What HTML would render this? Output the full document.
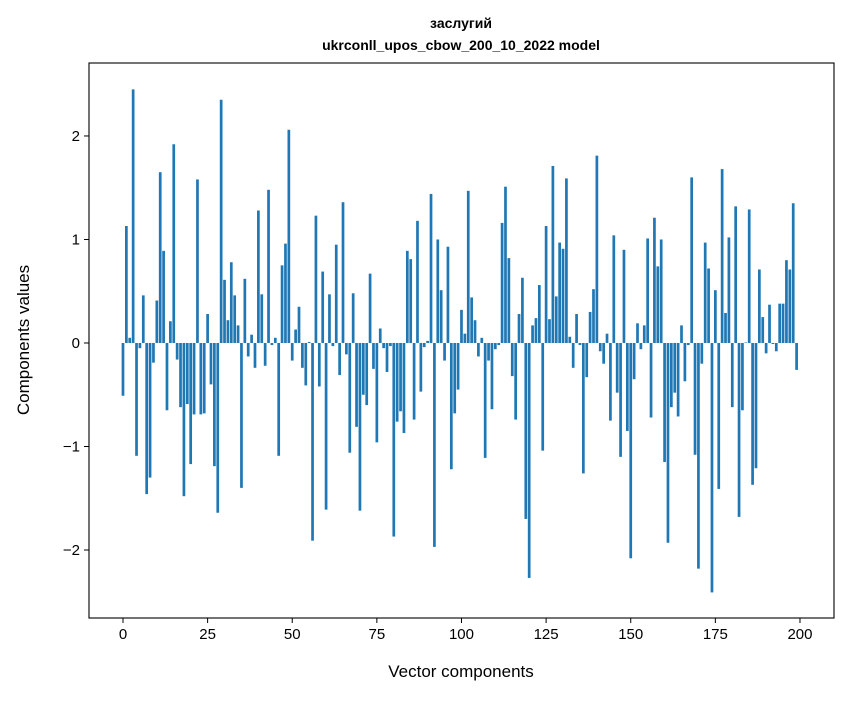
<!DOCTYPE html>
<html><head><meta charset="utf-8"><style>
body{margin:0;background:#fff;}
svg text{font-family:"Liberation Sans","DejaVu Sans",sans-serif;}
</style></head><body>
<svg id="chart" width="847" height="696" xmlns="http://www.w3.org/2000/svg">
<rect width="847" height="696" fill="#fff"/>
<text x="461" y="28" text-anchor="middle" font-size="14" font-weight="bold">заслугий</text>
<text x="461" y="50" text-anchor="middle" font-size="14" font-weight="bold">ukrconll_upos_cbow_200_10_2022 model</text>
<g id="bars"></g>
<rect x="89" y="63" width="745" height="555" fill="none" stroke="#000" stroke-width="1.1"/>
<g id="axes"></g>
<text x="461" y="677" text-anchor="middle" font-size="17">Vector components</text>
<text transform="translate(29,340) rotate(-90)" text-anchor="middle" font-size="17">Components values</text>
</svg>
<script>
const values = [-0.51,1.13,0.05,2.45,-1.09,-0.05,0.46,-1.46,-1.30,-0.19,
0.41,1.65,0.89,-0.65,0.21,1.92,-0.16,-0.62,-1.48,-0.59,
-1.17,-0.69,1.58,-0.69,-0.68,0.28,-0.40,-1.19,-1.64,2.35,
0.61,0.22,0.78,0.46,0.17,-1.40,0.62,-0.13,0.08,-0.24,
1.28,0.47,-0.22,1.48,-0.02,0.05,-1.09,0.75,0.96,2.06,
-0.17,0.13,0.35,-0.24,-0.41,0.01,-1.91,1.23,-0.42,0.69,
-1.61,0.47,-0.03,0.95,-0.31,1.36,-0.11,-1.06,0.48,-0.81,
-1.62,-0.50,-0.60,0.67,-0.25,-0.96,0.14,-0.05,-0.28,-0.03,
-1.87,-0.76,-0.66,-0.87,0.89,0.81,-0.74,1.18,-0.47,-0.04,
0.02,1.44,-1.97,1.00,0.51,-0.17,0.93,-1.22,-0.68,-0.45,
0.32,0.09,1.47,0.44,0.22,-0.13,0.05,-1.11,-0.17,-0.64,
-0.06,-0.02,1.16,1.51,0.82,-0.32,-0.74,0.28,0.63,-1.70,
-2.27,0.17,0.24,0.56,-1.04,1.13,0.23,1.71,0.45,0.97,
0.91,1.59,0.06,-0.24,0.28,-0.02,-1.26,-0.33,0.30,0.52,
1.81,-0.08,-0.20,0.09,-0.75,1.04,-0.48,-1.10,0.90,-0.85,
-2.08,-0.35,0.19,-0.06,0.17,1.01,-0.72,1.21,0.74,1.00,
-1.15,-1.93,-0.62,-0.48,-0.71,0.17,-0.37,-0.02,1.60,-1.08,
-2.18,-0.20,0.97,0.72,-2.41,0.51,-1.41,1.68,0.29,1.02,
-0.62,1.32,-1.68,-0.65,0.005,1.29,-1.37,-1.21,0.71,0.25,
-0.10,0.37,-0.01,-0.08,0.38,0.38,0.80,0.71,1.35,-0.26];
const xTicks = [0,25,50,75,100,125,150,175,200];
const yTicks = [-2,-1,0,1,2];
const X0=89,X1=834,Y0=63,Y1=618;
const xMin=-10.04,xMax=210.05,yMin=-2.657,yMax=2.705;
function sx(v){return X0+(v-xMin)/(xMax-xMin)*(X1-X0);}
function sy(v){return Y1-(v-yMin)/(yMax-yMin)*(Y1-Y0);}
const NS="http://www.w3.org/2000/svg";
const bars=document.getElementById('bars');
values.forEach((v,i)=>{
  const r=document.createElementNS(NS,'rect');
  
  
  const xa=sx(i-0.4),xb=sx(i+0.4);
  const ya=sy(Math.max(v,0)),yb=sy(Math.min(v,0));
  r.setAttribute('x',xa);r.setAttribute('width',xb-xa);
  r.setAttribute('y',ya);r.setAttribute('height',Math.max(yb-ya,0.3));
  r.setAttribute('fill','#1f77b4');
  bars.appendChild(r);
});
const axes=document.getElementById('axes');
xTicks.forEach(t=>{
  const x=sx(t);
  const l=document.createElementNS(NS,'line');
  
  
  l.setAttribute('x1',x);l.setAttribute('x2',x);l.setAttribute('y1',Y1);l.setAttribute('y2',Y1+5);
  l.setAttribute('stroke','#000');
  axes.appendChild(l);
  const tx=document.createElementNS(NS,'text');
  
  
  tx.setAttribute('x',x);tx.setAttribute('y',Y1+21);
  tx.setAttribute('text-anchor','middle');tx.setAttribute('font-size','15');
  tx.textContent=String(t);
  axes.appendChild(tx);
});
yTicks.forEach(t=>{
  const y=sy(t);
  const l=document.createElementNS(NS,'line');
  
  
  l.setAttribute('x1',X0-5);l.setAttribute('x2',X0);l.setAttribute('y1',y);l.setAttribute('y2',y);
  l.setAttribute('stroke','#000');
  axes.appendChild(l);
  const tx=document.createElementNS(NS,'text');
  
  
  tx.setAttribute('x',X0-9);tx.setAttribute('y',y+5);
  tx.setAttribute('text-anchor','end');tx.setAttribute('font-size','15');
  tx.textContent=(t<0?'\u2212'+Math.abs(t):String(t));
  axes.appendChild(tx);
});
</script>
</body></html>
